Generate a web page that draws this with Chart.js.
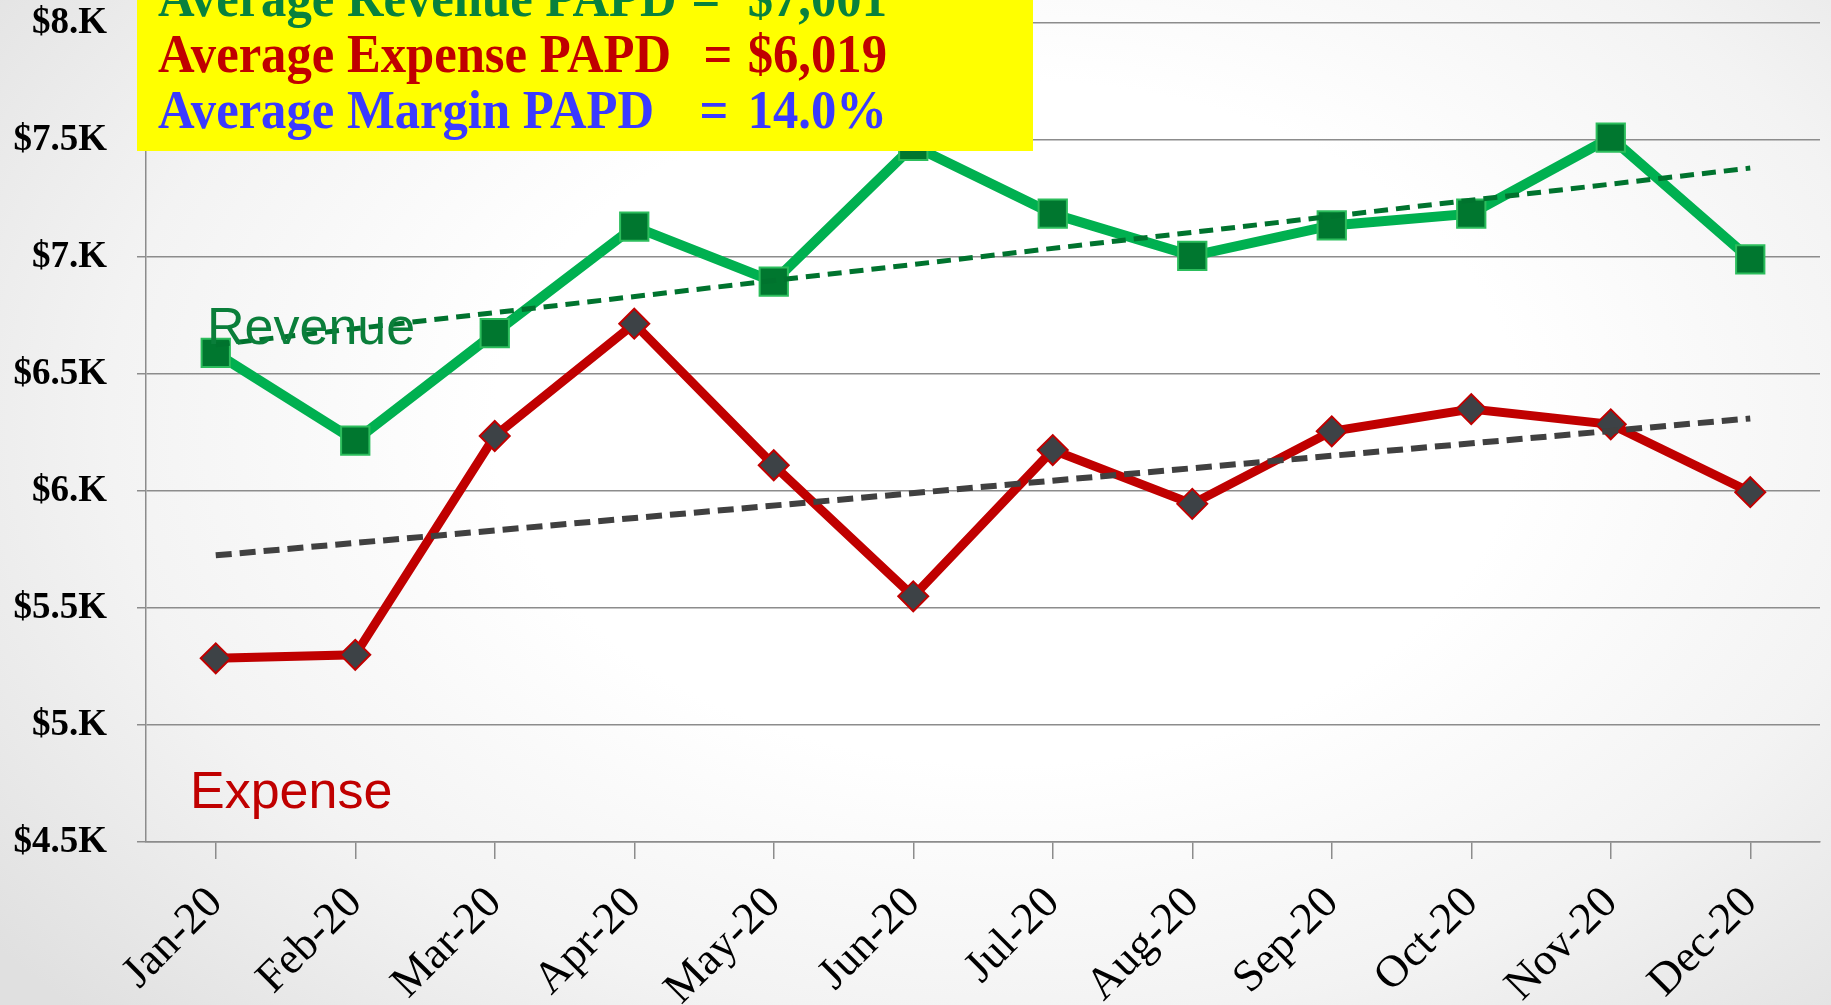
<!DOCTYPE html>
<html>
<head>
<meta charset="utf-8">
<title>Revenue vs Expense PAPD</title>
<script src="https://cdn.jsdelivr.net/npm/chart.js@4.4.1/dist/chart.umd.min.js"></script>
<style>
    html, body { margin: 0; padding: 0; width: 1831px; height: 1005px; overflow: hidden; }
    body { background: radial-gradient(ellipse 70% 85% at 55% 42%, #ffffff 40%, #f3f3f3 70%, #e0e0e0 100%); }
    #wrap { position: relative; width: 1831px; height: 1005px; }
</style>
</head>
<body>
<div id="wrap"><canvas id="papd-chart"></canvas></div>
<script>
// Data
const months = ['Jan-20', 'Feb-20', 'Mar-20', 'Apr-20', 'May-20', 'Jun-20',
                'Jul-20', 'Aug-20', 'Sep-20', 'Oct-20', 'Nov-20', 'Dec-20'];
const revenue = [6590, 6215, 6675, 7130, 6895, 7475, 7185, 7005, 7135, 7185, 7510, 6990];
const expense = [5285, 5300, 6235, 6715, 6110, 5550, 6175, 5945, 6255, 6350, 6285, 5995];
// Linear trendline end points (Jan, Dec)
const revenueTrend = [6625, 7380];
const expenseTrend = [5725, 6310];

const yTickValues = [4500, 5000, 5500, 6000, 6500, 7000, 7500, 8000];
const yTickLabels = ['$4.5K', '$5.K', '$5.5K', '$6.K', '$6.5K', '$7.K', '$7.5K', '$8.K'];

const summaryLabels = ['Average Revenue PAPD', 'Average Expense PAPD', 'Average Margin PAPD'];
const summaryValues = ['$7,001', '$6,019', '14.0%'];
const summaryColors = ['#08813d', '#c00000', '#3a3aff'];

const GRID = '#8c8c8c';
const SERIF = '"Liberation Serif", "Times New Roman", serif';

// Trendline series only has its two end points, the gap is spanned
const trendSeries = (ends) => months.map((m, i) => {
    if (i === 0) return ends[0];
    if (i === months.length - 1) return ends[1];
    return null;
});

/**
 * Yellow summary box and the series names
 */
const annotations = {
    id: 'annotations',
    afterDatasetsDraw(chart) {
        const ctx = chart.ctx;
        ctx.save();

        // series names
        ctx.textAlign = 'left';
        ctx.textBaseline = 'alphabetic';
        ctx.font = '52px "Liberation Sans", Arial, sans-serif';
        ctx.fillStyle = '#0a7e3a';
        ctx.fillText('Revenue', 207, 344);
        ctx.fillStyle = '#c00000';
        ctx.fillText('Expense', 190, 808);

        // summary box
        ctx.fillStyle = '#ffff00';
        ctx.fillRect(137, 0, 896, 151);

        ctx.font = 'bold 54px ' + SERIF;
        // squeeze the font to the width of the original lettering
        const sx = 513 / ctx.measureText(summaryLabels[1]).width;
        const eqX = [706, 718, 714];
        const put = (text, x, base, align) => {
            ctx.save();
            ctx.translate(x, base);
            ctx.scale(sx, 1);
            ctx.textAlign = align;
            ctx.fillText(text, 0, 0);
            ctx.restore();
        };
        summaryLabels.forEach((label, i) => {
            const base = 16 + i * 56;
            ctx.fillStyle = summaryColors[i];
            put(label, 158, base, 'left');
            put('=', eqX[i], base, 'center');
            put(summaryValues[i], 887, base, 'right');
        });
        ctx.restore();
    }
};

new Chart(document.getElementById('papd-chart').getContext('2d'), {
    type: 'line',
    data: {
        labels: months,
        datasets: [
            {
                label: 'Revenue trend',
                data: trendSeries(revenueTrend),
                spanGaps: true,
                borderColor: '#00732e',
                borderWidth: 5,
                borderDash: [14, 8],
                pointRadius: 0,
                order: 0
            },
            {
                label: 'Expense trend',
                data: trendSeries(expenseTrend),
                spanGaps: true,
                borderColor: '#404040',
                borderWidth: 6,
                borderDash: [16, 8],
                pointRadius: 0,
                order: 0
            },
            {
                label: 'Revenue',
                data: revenue,
                borderColor: '#00b050',
                borderWidth: 10,
                pointStyle: 'rect',
                pointRadius: 20,
                pointBackgroundColor: '#00772f',
                pointBorderColor: '#2cbd5c',
                pointBorderWidth: 2,
                order: 1
            },
            {
                label: 'Expense',
                data: expense,
                borderColor: '#c00000',
                borderWidth: 9,
                pointStyle: 'rectRot',
                pointRadius: 15,
                pointBackgroundColor: '#3d4246',
                pointBorderColor: '#c00000',
                pointBorderWidth: 2,
                order: 1
            }
        ]
    },
    options: {
        responsive: true,
        maintainAspectRatio: false,
        animation: false,
        layout: { autoPadding: false, padding: { top: 23, right: 11, left: 0, bottom: 0 } },
        plugins: {
            legend: { display: false },
            tooltip: { enabled: false }
        },
        scales: {
            x: {
                offset: true,
                afterFit: (scale) => { scale.height = 163; },
                grid: {
                    drawOnChartArea: false,
                    drawTicks: true,
                    tickLength: 17,
                    color: GRID,
                    lineWidth: 1.5
                },
                border: { display: true, color: GRID, width: 1.5 },
                ticks: {
                    minRotation: 45,
                    maxRotation: 45,
                    padding: 18,
                    color: '#000000',
                    font: { family: SERIF, size: 45 }
                }
            },
            y: {
                min: 4500,
                max: 8000,
                afterFit: (scale) => {
                    scale.width = 146;
                    // the label padding must not push the plot top down
                    scale.paddingTop = 0;
                    scale.paddingBottom = 0;
                },
                afterBuildTicks: (scale) => { scale.ticks = yTickValues.map(v => ({ value: v })); },
                grid: {
                    color: GRID,
                    lineWidth: 1.5,
                    tickLength: 9
                },
                border: { display: true, color: GRID, width: 1.5 },
                ticks: {
                    padding: 30,
                    color: '#000000',
                    font: { family: SERIF, weight: 'bold', size: 37 },
                    callback: (value) => yTickLabels[yTickValues.indexOf(value)]
                }
            }
        }
    },
    plugins: [annotations]
});
</script>
</body>
</html>
